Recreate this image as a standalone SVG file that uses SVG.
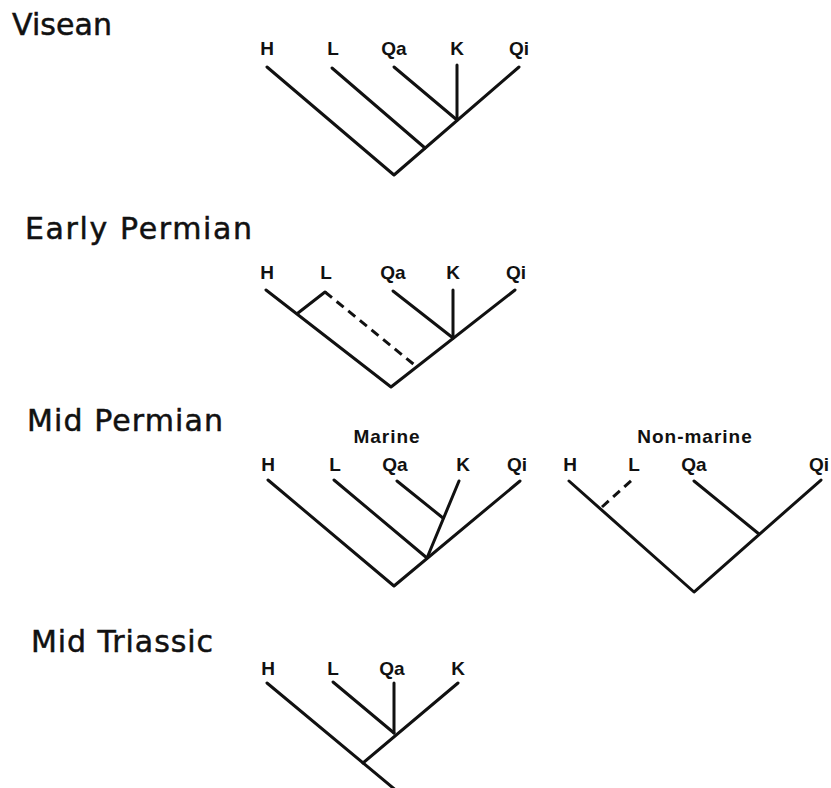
<svg xmlns="http://www.w3.org/2000/svg" width="831" height="788" viewBox="0 0 831 788">
  <style>
    .title { font-family: "DejaVu Sans", "Liberation Sans", sans-serif; font-size: 30px; fill: #111; stroke: #111; stroke-width: 0.5; }
    .taxon { font-family: "Liberation Sans", Arial, sans-serif; font-weight: bold; font-size: 19px; fill: #111; text-anchor: middle; }
    .head { font-family: "Liberation Sans", Arial, sans-serif; font-weight: bold; font-size: 19px; fill: #111; text-anchor: middle; letter-spacing: 1px; }
    .br { stroke: #111; stroke-width: 3; fill: none; stroke-linecap: round; stroke-linejoin: round; }
    .dash { stroke: #111; stroke-width: 3; fill: none; stroke-dasharray: 9 6; }
  </style>
  <rect width="831" height="788" fill="#fff"/>

  <!-- Visean -->
  <g id="visean">
    <text class="title" x="12" y="35" textLength="100" lengthAdjust="spacing">Visean</text>
    <g id="visean-H"><text class="taxon" x="267" y="55">H</text></g>
    <g id="visean-L"><text class="taxon" x="333" y="55">L</text></g>
    <g id="visean-Qa"><text class="taxon" x="394" y="55">Qa</text></g>
    <g id="visean-K"><text class="taxon" x="457" y="55">K</text></g>
    <g id="visean-Qi"><text class="taxon" x="519" y="55">Qi</text></g>
    <g id="visean-branches">
      <path class="br" d="M267 67 L394 175 L519 67"/>
      <path class="br" d="M332 68 L425 148"/>
      <path class="br" d="M394 67 L457 120"/>
      <path class="br" d="M457 65 L457 120"/>
    </g>
  </g>

  <!-- Early Permian -->
  <g id="early-permian">
    <text class="title" x="25" y="239" textLength="227" lengthAdjust="spacing">Early Permian</text>
    <g id="ep-H"><text class="taxon" x="267" y="279">H</text></g>
    <g id="ep-L"><text class="taxon" x="326" y="279">L</text></g>
    <g id="ep-Qa"><text class="taxon" x="393" y="279">Qa</text></g>
    <g id="ep-K"><text class="taxon" x="453" y="279">K</text></g>
    <g id="ep-Qi"><text class="taxon" x="516" y="279">Qi</text></g>
    <g id="ep-branches">
      <path class="br" d="M266 290 L391 387 L515 290"/>
      <path class="br" d="M298 313 L325 292"/>
      <path class="dash" d="M325 292 L417 367"/>
      <path class="br" d="M393 291 L453 338"/>
      <path class="br" d="M453 290 L453 338"/>
    </g>
  </g>

  <!-- Mid Permian -->
  <g id="mid-permian">
    <text class="title" x="27" y="431" textLength="196" lengthAdjust="spacing">Mid Permian</text>

    <g id="marine">
      <text class="head" x="387" y="443">Marine</text>
      <g id="mp-H"><text class="taxon" x="268" y="471">H</text></g>
      <g id="mp-L"><text class="taxon" x="335" y="471">L</text></g>
      <g id="mp-Qa"><text class="taxon" x="395" y="471">Qa</text></g>
      <g id="mp-K"><text class="taxon" x="463" y="471">K</text></g>
      <g id="mp-Qi"><text class="taxon" x="517" y="471">Qi</text></g>
      <g id="mp-branches">
        <path class="br" d="M268 480 L394 586 L520 481"/>
        <path class="br" d="M334 480 L427 558"/>
        <path class="br" d="M459 481 L427 558"/>
        <path class="br" d="M397 481 L443 518"/>
      </g>
    </g>

    <g id="non-marine">
      <text class="head" x="695" y="443">Non-marine</text>
      <g id="nm-H"><text class="taxon" x="570" y="471">H</text></g>
      <g id="nm-L"><text class="taxon" x="634" y="471">L</text></g>
      <g id="nm-Qa"><text class="taxon" x="694" y="471">Qa</text></g>
      <g id="nm-Qi"><text class="taxon" x="829" y="471" style="text-anchor:end">Qi</text></g>
      <g id="nm-branches">
        <path class="br" d="M569 481 L694 592 L821 480"/>
        <path class="dash" d="M602 507 L632 480"/>
        <path class="br" d="M694 481 L759 534"/>
      </g>
    </g>
  </g>

  <!-- Mid Triassic -->
  <g id="mid-triassic">
    <text class="title" x="31" y="652" textLength="182" lengthAdjust="spacing">Mid Triassic</text>
    <g id="mt-H"><text class="taxon" x="268" y="675">H</text></g>
    <g id="mt-L"><text class="taxon" x="333" y="675">L</text></g>
    <g id="mt-Qa"><text class="taxon" x="392" y="675">Qa</text></g>
    <g id="mt-K"><text class="taxon" x="458" y="675">K</text></g>
    <g id="mt-branches">
      <path class="br" d="M267 683 L398 792"/>
      <path class="br" d="M333 682 L394 733"/>
      <path class="br" d="M394 683 L394 733"/>
      <path class="br" d="M458 683 L363 763"/>
    </g>
  </g>
</svg>
